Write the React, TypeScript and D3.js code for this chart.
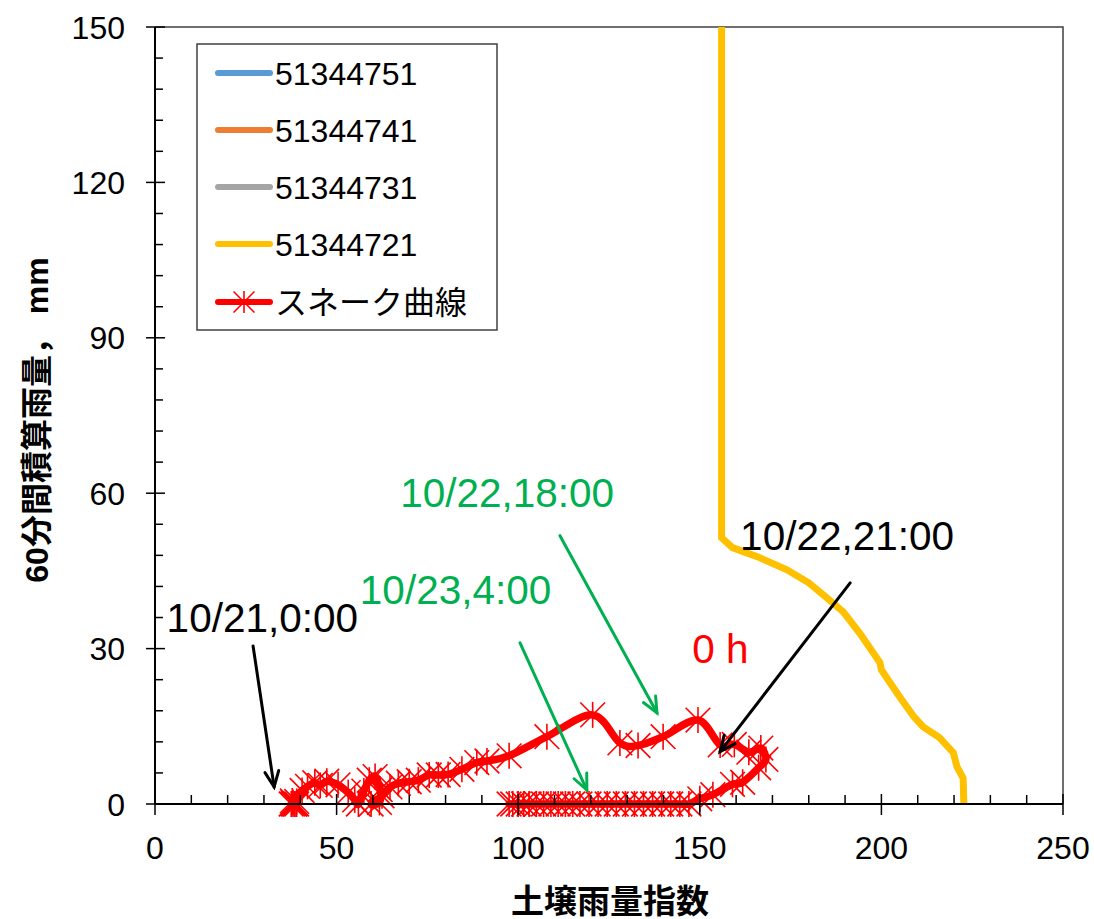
import React from "react";
import * as d3 from "d3";

// 土壌雨量指数 (x) vs 60分間積算雨量 (y)
const seriesNames = ["51344751", "51344741", "51344731", "51344721"];
const seriesColors = ["#5B9BD5", "#ED7D31", "#A5A5A5", "#FFC000"];

// only 51344721 falls inside the plotted range
const cl51344721: [number, number][] = [
  [156, 150], [156, 51.4], [159, 49.5], [166, 47.7], [174, 45.2], [180, 42.7],
  [185, 39.8], [189.5, 37.1], [194, 33], [199.6, 27.3], [200, 25.9], [205, 20.7],
  [209, 16.8], [211.5, 14.9], [216, 12.8], [219.8, 9.9], [220.8, 7.2], [222.5, 5],
  [222.7, 0],
];

const snakeCurve: [number, number][] = [
  [38, 0], [38.5, 0], [37.5, 0], [39, 0.5], [38, 0.3], [38.5, 0], [39, 0], [37.8, 0.6],
  [40.5, 2.6], [42, 3.4], [44, 4.1], [45.5, 3.6], [47.3, 4.4], [50.4, 3.7], [53.2, 2.2],
  [55, 0.8], [56, 0], [57.5, 2.5], [59, 4.6], [60.6, 5.3], [62, 2.8],
  [61.8, 0.3], [59.5, 0], [62.5, 1.6], [64.7, 3.3], [67, 4], [70, 4.3],
  [72.5, 4.6], [75.5, 5.6], [78, 5.6], [80.7, 5.7], [84.5, 6.7], [88.6, 8],
  [91.4, 8.3], [97.5, 9.3], [107.9, 13], [120.5, 17.2], [128, 11.8], [133, 11.3],
  [139.9, 13], [149.5, 16.2], [155.6, 11.4], [159.5, 11.5], [163.5, 10], [166.8, 10.8],
  [168.2, 8.6], [166.2, 7], [161.8, 4.2], [159, 3.8], [153.6, 1.8], [150, 1],
  [147, 0], [144.5, 0], [142, 0], [139.5, 0], [137, 0], [134.5, 0], [132, 0], [129.5, 0],
  [127, 0], [124.5, 0], [122, 0], [119.5, 0], [117, 0], [115, 0], [113, 0],
  [111, 0], [109, 0], [107, 0], [105, 0], [103, 0], [101.5, 0], [100, 0], [98.5, 0], [97.5, 0],
];

const xTicks = [0, 50, 100, 150, 200, 250];
const yTicks = [0, 30, 60, 90, 120, 150];

// annotation texts and arrows, in data units
const notes = [
  { text: "10/21,0:00", x: 3.2, y: 33.2, color: "#000000", from: [27, 30.5], to: [32.8, 3.3] },
  { text: "10/22,18:00", x: 67.5, y: 57.4, color: "#00B050", from: [111.5, 51.8], to: [138.2, 17.6] },
  { text: "10/23,4:00", x: 56.4, y: 38.7, color: "#00B050", from: [100.5, 31.1], to: [118.9, 2.7] },
  { text: "10/22,21:00", x: 161.1, y: 49.1, color: "#000000", from: [191.4, 42.7], to: [155.6, 10.1] },
];
const zeroLabel = { text: "0 h", x: 147.9, y: 27.3 };

const FONT = "'Liberation Sans', Arial, 'Noto Sans CJK JP', sans-serif";

const x = d3.scaleLinear().domain([0, 250]).range([155, 1063]);
const y = d3.scaleLinear().domain([0, 150]).range([804, 27]);

const smooth = d3
  .line<[number, number]>()
  .x((d) => x(d[0]))
  .y((d) => y(d[1]))
  .curve(d3.curveCardinal.tension(0));

const straight = d3
  .line<[number, number]>()
  .x((d) => x(d[0]))
  .y((d) => y(d[1]));

const Asterisk = ({ cx, cy, r = 13 }: { cx: number; cy: number; r?: number }) => {
  const d = r * 0.95;
  return (
    <g stroke="#FF0000" strokeWidth={1.6}>
      <line x1={cx} y1={cy - r} x2={cx} y2={cy + r} />
      <line x1={cx - d} y1={cy - d} x2={cx + d} y2={cy + d} />
      <line x1={cx - d} y1={cy + d} x2={cx + d} y2={cy - d} />
    </g>
  );
};

const Arrow = ({ from, to, color }: { from: number[]; to: number[]; color: string }) => {
  const x1 = x(from[0]);
  const y1 = y(from[1]);
  const x2 = x(to[0]);
  const y2 = y(to[1]);
  const ang = Math.atan2(y2 - y1, x2 - x1);
  const len = 17;
  const spread = 0.42;
  const a1 = [x2 - len * Math.cos(ang - spread), y2 - len * Math.sin(ang - spread)];
  const a2 = [x2 - len * Math.cos(ang + spread), y2 - len * Math.sin(ang + spread)];
  return (
    <g stroke={color} strokeWidth={3} fill="none" strokeLinecap="round">
      <line x1={x1} y1={y1} x2={x2} y2={y2} />
      <polyline points={`${a1[0]},${a1[1]} ${x2},${y2} ${a2[0]},${a2[1]}`} strokeLinejoin="miter" />
    </g>
  );
};

export default function App() {
  const xMinor = d3.range(0, 251, 10).filter((v) => v % 50 !== 0);
  const yMinor = d3.range(0, 151, 6).filter((v) => v % 30 !== 0);
  const legendY = [73, 130, 187, 244, 302];

  return (
    <div>
      <style>{"body{margin:0;background:#fff}"}</style>
      <svg width={1094} height={919} style={{ display: "block", fontFamily: FONT }}>
        <rect width={1094} height={919} fill="#ffffff" />

        {/* plot border top/right */}
        <path
          d={`M${x(0)},${y(150)}H${x(250)}V${y(0)}`}
          fill="none"
          stroke="#404040"
          strokeWidth={1.5}
        />

        {/* critical line */}
        <path d={straight(cl51344721) ?? ""} fill="none" stroke="#FFC000" strokeWidth={7} />

        {/* snake curve */}
        <path
          d={smooth(snakeCurve) ?? ""}
          fill="none"
          stroke="#FF0000"
          strokeWidth={7.5}
          strokeLinejoin="round"
          strokeLinecap="round"
        />
        {snakeCurve.map((d, i) => (
          <Asterisk key={i} cx={x(d[0])} cy={y(d[1])} />
        ))}

        {/* axes */}
        <line x1={x(0)} y1={y(0)} x2={x(250)} y2={y(0)} stroke="#000" strokeWidth={2} />
        <line x1={x(0)} y1={y(0)} x2={x(0)} y2={y(150)} stroke="#000" strokeWidth={2} />
        {xTicks.map((v) => (
          <g key={"xt" + v}>
            <line x1={x(v)} x2={x(v)} y1={y(0) - 10} y2={y(0) + 11} stroke="#000" strokeWidth={1.5} />
            <text x={x(v)} y={859} textAnchor="middle" fontSize={32} fill="#000">
              {v}
            </text>
          </g>
        ))}
        {xMinor.map((v) => (
          <line key={"xm" + v} x1={x(v)} x2={x(v)} y1={y(0) - 9} y2={y(0)} stroke="#000" strokeWidth={1.5} />
        ))}
        {yTicks.map((v) => (
          <g key={"yt" + v}>
            <line x1={x(0) - 9} x2={x(0) + 10} y1={y(v)} y2={y(v)} stroke="#000" strokeWidth={1.5} />
            <text x={125} y={y(v)} dy="0.36em" textAnchor="end" fontSize={32} fill="#000">
              {v}
            </text>
          </g>
        ))}
        {yMinor.map((v) => (
          <line key={"ym" + v} x1={x(0)} x2={x(0) + 8} y1={y(v)} y2={y(v)} stroke="#000" strokeWidth={1.5} />
        ))}

        {/* axis titles */}
        <text x={610} y={913} textAnchor="middle" fontSize={33} fontWeight="bold" fill="#000">
          土壌雨量指数
        </text>
        <text
          transform="translate(48,420) rotate(-90)"
          textAnchor="middle"
          fontSize={32}
          fontWeight="bold"
          fill="#000"
        >
          60分間積算雨量，  mm
        </text>

        {/* legend */}
        <rect x={197} y={44} width={300} height={286} fill="#fff" stroke="#404040" strokeWidth={1.5} />
        {seriesNames.map((name, i) => (
          <g key={name}>
            <line
              x1={218}
              x2={270}
              y1={legendY[i]}
              y2={legendY[i]}
              stroke={seriesColors[i]}
              strokeWidth={6}
              strokeLinecap="round"
            />
            <text x={275} y={legendY[i]} dy="0.36em" fontSize={32} fill="#000">
              {name}
            </text>
          </g>
        ))}
        <line x1={218} x2={270} y1={legendY[4]} y2={legendY[4]} stroke="#FF0000" strokeWidth={6} strokeLinecap="round" />
        <Asterisk cx={244} cy={legendY[4]} r={11} />
        <text x={275} y={legendY[4]} dy="0.36em" fontSize={32} fill="#000">
          スネーク曲線
        </text>

        {/* annotations */}
        {notes.map((n) => (
          <g key={n.text}>
            <Arrow from={n.from} to={n.to} color={n.color} />
            <text x={x(n.x)} y={y(n.y)} fontSize={40.5} fill={n.color}>
              {n.text}
            </text>
          </g>
        ))}
        <text x={x(zeroLabel.x)} y={y(zeroLabel.y)} fontSize={40.5} fill="#FF0000">
          {zeroLabel.text}
        </text>
      </svg>
    </div>
  );
}
